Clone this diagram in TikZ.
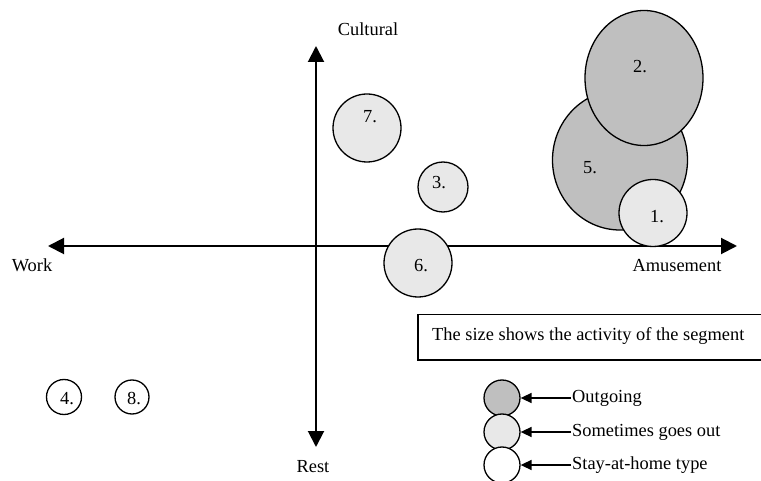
\documentclass[tikz,border=0pt]{standalone}
\usepackage{fontspec}
\setmainfont{Liberation Serif}
\usetikzlibrary{arrows.meta,shapes.geometric}
\definecolor{outgoing}{gray}{0.75}
\definecolor{sometimes}{gray}{0.91}
\tikzset{
  seg/.style={ellipse,draw,line width=1.3pt,inner sep=0pt},
  axis/.style={line width=2pt,{Triangle[length=16pt,width=16pt]}-{Triangle[length=16pt,width=16pt]}},
  key/.style={line width=1.5pt,-{Triangle[length=11pt,width=10pt]}},
}
\begin{document}
\begin{tikzpicture}[x=1pt,y=-1pt,font=\fontsize{18.4}{22}\selectfont]
\useasboundingbox (0,0) rectangle (761,481);
% axes
\coordinate (ytop) at (316,46);
\coordinate (ybot) at (316,447);
\coordinate (xleft) at (48,246);
\coordinate (xright) at (737,246);
\draw[axis] (ytop) -- (ybot);
\draw[axis] (xleft) -- (xright);
\node (cult) at (368,29) {Cultural};
\node (work) at (32,265) {Work};
\node (amuse) at (677,266) {Amusement};
\node (rest) at (313,467) {Rest};
% segments
\node[seg,fill=sometimes,minimum size=68] (s7) at (367,128) {};
\node (l7) at (370,117) {7.};
\node[seg,fill=sometimes,minimum size=50] (s3) at (443,187) {};
\node (l3) at (439,183) {3.};
\node[seg,fill=sometimes,minimum size=68] (s6) at (418,263) {};
\node (l6) at (421,266) {6.};
\node[seg,fill=outgoing,minimum width=135,minimum height=140] (s5) at (620,160) {};
\node (l5) at (590,168) {5.};
\node[seg,fill=outgoing,minimum width=118,minimum height=135] (s2) at (644,78) {};
\node (l2) at (640,67) {2.};
\node[seg,fill=sometimes,minimum width=68,minimum height=67] (s1) at (653,213) {};
\node (l1) at (657,217) {1.};
\node[seg,fill=white,minimum size=35] (s4) at (64,397) {};
\node (l4) at (67,399) {4.};
\node[seg,fill=white,minimum size=34] (s8) at (132,397) {};
\node (l8) at (134,399) {8.};
% legend
\node[draw,line width=1.5pt,anchor=north west,minimum width=348,minimum height=45] (sizenote) at (417,314) {};
\node[right,inner sep=0pt] (sizetxt) at (432,336) {The size shows the activity of the segment};
\node[seg,fill=outgoing,minimum size=36] (kout) at (502,398) {};
\node[seg,fill=sometimes,minimum size=36] (ksome) at (502,432) {};
\node[seg,fill=white,minimum size=36] (khome) at (502,465) {};
\node[right,inner sep=1pt] (tout) at (571,398) {Outgoing};
\node[right,inner sep=1pt] (tsome) at (571,432) {Sometimes goes out};
\node[right,inner sep=1pt] (thome) at (571,465) {Stay-at-home type};
\draw[key] (tout.west) -- (kout);
\draw[key] (tsome.west) -- (ksome);
\draw[key] (thome.west) -- (khome);
\end{tikzpicture}
\end{document}
